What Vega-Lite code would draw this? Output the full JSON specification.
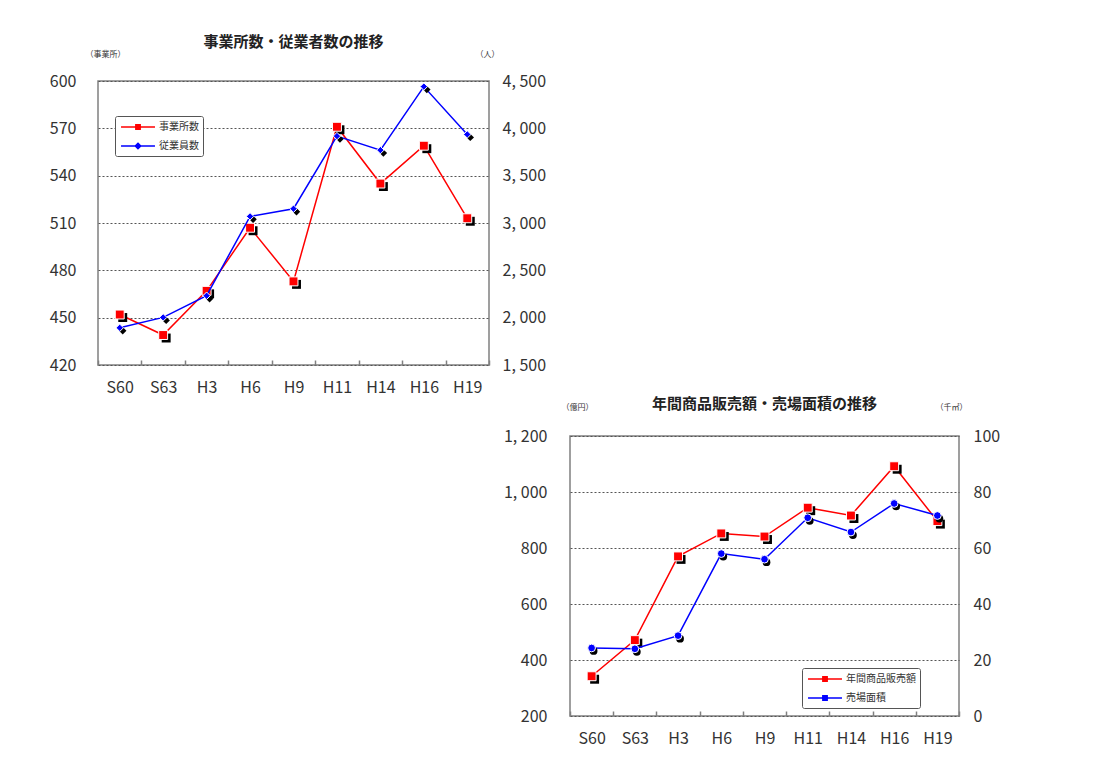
{
  "$schema": "https://vega.github.io/schema/vega-lite/v6.json",
  "background": "white",
  "padding": {"left": 48, "top": 34, "right": 0, "bottom": 0},
  "config": {
    "font": "Noto Sans CJK JP",
    "view": {"stroke": "#808080", "strokeWidth": 1.5},
    "axis": {"labelFont": "Noto Sans CJK JP", "labelColor": "#333333", "domain": false, "titleFont": "Noto Sans CJK JP", "titleFontWeight": "normal", "titleColor": "#333333"},
    "legend": {"labelFont": "Noto Sans CJK JP"}
  },
  "spacing": 0,
  "resolve": {"scale": {"color": "independent"}, "legend": {"color": "independent"}},
  "vconcat": [
    {
      "width": 391,
      "height": 284,
      "title": {"text": "事業所数・従業者数の推移", "fontSize": 15, "fontWeight": "bold", "frame": "group", "anchor": "middle", "offset": 0, "color": "#222222"},
      "data": {"values": [
        {"year": "S60", "est": 452, "emp": 1893},
        {"year": "S63", "est": 439, "emp": 2003},
        {"year": "H3", "est": 467, "emp": 2232},
        {"year": "H6", "est": 507, "emp": 3070},
        {"year": "H9", "est": 473, "emp": 3151},
        {"year": "H11", "est": 571, "emp": 3918},
        {"year": "H14", "est": 535, "emp": 3770},
        {"year": "H16", "est": 559, "emp": 4441},
        {"year": "H19", "est": 513, "emp": 3936}
      ]},
      "encoding": {
        "x": {"field": "year", "type": "ordinal", "sort": null, "scale": {"paddingInner": 0, "paddingOuter": 0},
          "axis": {"title": null, "labelAngle": 0, "tickBand": "extent", "tickSize": -5, "tickColor": "#808080", "tickWidth": 1.5, "labelPadding": 19, "labelFontSize": 16}}
      },
      "layer": [
        {
          "encoding": {
            "y": {"field": "est", "type": "quantitative", "scale": {"domain": [420, 600], "nice": false, "zero": false},
              "axis": {"title": "（事業所）", "titleAngle": 0, "titleX": 7, "titleY": -27, "titleFontSize": 8, "titleAlign": "center", "titleBaseline": "middle",
                "values": [420, 450, 480, 510, 540, 570, 600], "grid": true, "gridDash": [2, 2], "gridColor": "#555555", "ticks": false, "labelPadding": 22, "labelFontSize": 16}}
          },
          "layer": [
            {"mark": {"type": "line", "strokeWidth": 1.5},
              "encoding": {"color": {"datum": "事業所数", "type": "nominal",
                "scale": {"domain": ["事業所数", "従業員数"], "range": ["#ff0000", "#0000ff"]},
                "legend": {"title": null, "orient": "none", "legendX": 17, "legendY": 35, "padding": 4, "strokeColor": "#555555", "fillColor": "white", "cornerRadius": 2,
                  "labelFontSize": 10, "labelColor": "#333333", "symbolSize": 144, "symbolOffset": 12, "symbolStrokeWidth": 1.5, "rowPadding": 6, "labelOffset": 14, "symbolType": "M-2.83,0H2.83",
                  "encode": {"symbols": {"update": {
                    "shape": {"signal": "datum.value === '事業所数' ? 'M-2.83,0H2.83M-0.36,-0.36H0.36V0.36H-0.36Z' : 'M-2.83,0H2.83M0,-0.45L0.45,0L0,0.45L-0.45,0Z'"},
                    "fill": {"signal": "datum.value === '事業所数' ? '#ff0000' : '#0000ff'"}}}}}}}},
            {"mark": {"type": "point", "shape": "square", "filled": true, "size": 80, "color": "black", "opacity": 1, "xOffset": 3, "yOffset": 3}},
            {"mark": {"type": "point", "shape": "square", "filled": true, "size": 80, "opacity": 1, "stroke": "white", "strokeWidth": 1},
              "encoding": {"color": {"datum": "事業所数", "type": "nominal"}}}
          ]
        },
        {
          "encoding": {
            "y": {"field": "emp", "type": "quantitative", "scale": {"domain": [1500, 4500], "nice": false, "zero": false},
              "axis": {"orient": "right", "title": "（人）", "titleAngle": 0, "titleX": -2, "titleY": -27, "titleFontSize": 8, "titleAlign": "center", "titleBaseline": "middle",
                "values": [1500, 2000, 2500, 3000, 3500, 4000, 4500], "grid": false, "ticks": false, "labelPadding": 13, "labelFontSize": 16,
                "labelExpr": "replace(format(datum.value, ','), ',', ', ')"}}
          },
          "layer": [
            {"mark": {"type": "line", "strokeWidth": 1.5},
              "encoding": {"color": {"datum": "従業員数", "type": "nominal"}}},
            {"mark": {"type": "point", "shape": "diamond", "filled": true, "size": 55, "color": "black", "opacity": 1, "xOffset": 3, "yOffset": 3}},
            {"mark": {"type": "point", "shape": "diamond", "filled": true, "size": 55, "opacity": 1, "stroke": "white", "strokeWidth": 1},
              "encoding": {"color": {"datum": "従業員数", "type": "nominal"}}}
          ]
        }
      ],
      "resolve": {"scale": {"y": "independent"}}
    },
    {
      "spacing": 20,
      "hconcat": [
        {"width": 384, "height": 1, "mark": "point", "data": {"values": []}, "view": {"stroke": null}},
        {
          "width": 389,
          "height": 280,
          "title": {"text": "年間商品販売額・売場面積の推移", "fontSize": 15, "fontWeight": "bold", "frame": "group", "anchor": "middle", "offset": -9, "color": "#222222"},
          "data": {"values": [
            {"year": "S60", "sales": 342, "area": 24.3},
            {"year": "S63", "sales": 471, "area": 24.0},
            {"year": "H3", "sales": 770, "area": 28.7},
            {"year": "H6", "sales": 852, "area": 58.0},
            {"year": "H9", "sales": 841, "area": 56.0},
            {"year": "H11", "sales": 944, "area": 70.8},
            {"year": "H14", "sales": 916, "area": 65.7},
            {"year": "H16", "sales": 1092, "area": 75.9},
            {"year": "H19", "sales": 896, "area": 71.6}
          ]},
          "encoding": {
            "x": {"field": "year", "type": "ordinal", "sort": null, "scale": {"paddingInner": 0, "paddingOuter": 0},
              "axis": {"title": null, "labelAngle": 0, "tickBand": "extent", "tickSize": -5, "tickColor": "#808080", "tickWidth": 1.5, "labelPadding": 19, "labelFontSize": 16}}
          },
          "layer": [
            {
              "encoding": {
                "y": {"field": "sales", "type": "quantitative", "scale": {"domain": [200, 1200], "nice": false, "zero": false},
                  "axis": {"title": "（億円）", "titleAngle": 0, "titleX": 7, "titleY": -29, "titleFontSize": 8, "titleAlign": "center", "titleBaseline": "middle",
                    "values": [200, 400, 600, 800, 1000, 1200], "grid": true, "gridDash": [2, 2], "gridColor": "#555555", "ticks": false, "labelPadding": 23, "labelFontSize": 16,
                    "labelExpr": "replace(format(datum.value, ','), ',', ', ')"}}
              },
              "layer": [
                {"mark": {"type": "line", "strokeWidth": 1.5},
                  "encoding": {"color": {"datum": "年間商品販売額", "type": "nominal",
                    "scale": {"domain": ["年間商品販売額", "売場面積"], "range": ["#ff0000", "#0000ff"]},
                    "legend": {"title": null, "orient": "none", "legendX": 704, "legendY": 232, "padding": 4, "strokeColor": "#555555", "fillColor": "white", "cornerRadius": 2,
                      "labelFontSize": 10, "labelColor": "#333333", "symbolSize": 144, "symbolOffset": 12, "symbolStrokeWidth": 1.5, "rowPadding": 6, "labelOffset": 14, "symbolType": "M-2.83,0H2.83",
                      "encode": {"symbols": {"update": {
                        "shape": {"value": "M-2.83,0H2.83M-0.36,-0.36H0.36V0.36H-0.36Z"},
                        "fill": {"signal": "datum.value === '年間商品販売額' ? '#ff0000' : '#0000ff'"}}}}}}}},
                {"mark": {"type": "point", "shape": "square", "filled": true, "size": 80, "color": "black", "opacity": 1, "xOffset": 3, "yOffset": 3}},
                {"mark": {"type": "point", "shape": "square", "filled": true, "size": 80, "opacity": 1, "stroke": "white", "strokeWidth": 1},
                  "encoding": {"color": {"datum": "年間商品販売額", "type": "nominal"}}}
              ]
            },
            {
              "encoding": {
                "y": {"field": "area", "type": "quantitative", "scale": {"domain": [0, 100], "nice": false},
                  "axis": {"orient": "right", "title": "（千㎡）", "titleAngle": 0, "titleX": -8, "titleY": -29, "titleFontSize": 8, "titleAlign": "center", "titleBaseline": "middle",
                    "values": [0, 20, 40, 60, 80, 100], "grid": false, "ticks": false, "labelPadding": 14, "labelFontSize": 16}}
              },
              "layer": [
                {"mark": {"type": "line", "strokeWidth": 1.5},
                  "encoding": {"color": {"datum": "売場面積", "type": "nominal"}}},
                {"mark": {"type": "point", "shape": "circle", "filled": true, "size": 60, "color": "black", "opacity": 1, "xOffset": 2, "yOffset": 3}},
                {"mark": {"type": "point", "shape": "circle", "filled": true, "size": 60, "opacity": 1, "stroke": "white", "strokeWidth": 1},
                  "encoding": {"color": {"datum": "売場面積", "type": "nominal"}}}
              ]
            }
          ],
          "resolve": {"scale": {"y": "independent"}}
        }
      ]
    }
  ]
}
